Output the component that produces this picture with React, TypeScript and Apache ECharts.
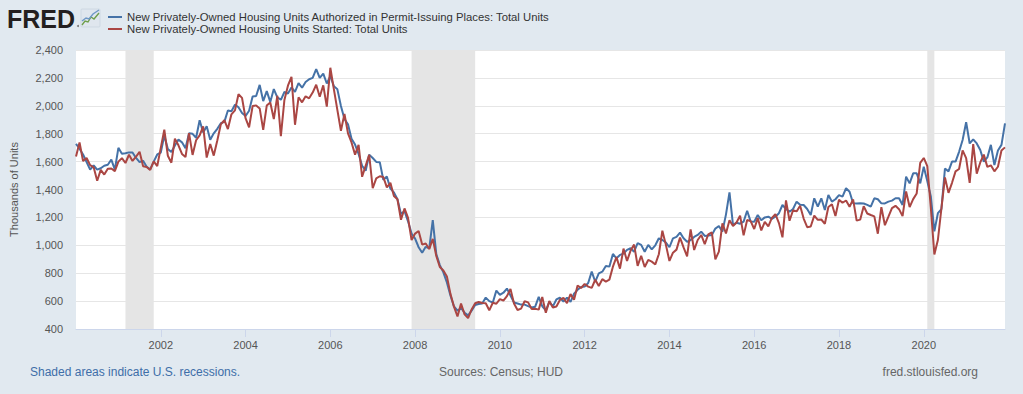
import React, { useEffect, useRef } from "react";
import * as echarts from "echarts";

const START_YEAR = 2000;

// New Privately-Owned Housing Units Authorized in Permit-Issuing Places (thousands, SAAR), monthly 2000-01 .. 2021-12
const permits: number[] = [
  1727, 1692, 1651, 1597, 1543, 1572, 1542, 1552, 1570, 1577, 1614, 1542,
  1699, 1656, 1660, 1666, 1665, 1626, 1596, 1606, 1563, 1544, 1600, 1651,
  1665, 1787, 1691, 1669, 1716, 1758, 1738, 1695, 1803, 1799, 1771, 1896,
  1808, 1854, 1757, 1803, 1835, 1875, 1885, 1966, 1961, 2008, 1990, 1949,
  1927, 1965, 2066, 2070, 2150, 2034, 2105, 2028, 2120, 2061, 2043, 2099,
  2088, 2132, 2100, 2162, 2130, 2170, 2190, 2200, 2263, 2200, 2230, 2160,
  2212, 2141, 2118, 1998, 1905, 1867, 1763, 1722, 1655, 1570, 1535, 1649,
  1626, 1598, 1596, 1470, 1493, 1406, 1379, 1330, 1225, 1244, 1172, 1084,
  1048, 986, 946, 989, 978, 1180, 937, 858, 806, 733, 641, 562,
  531, 551, 517, 498, 531, 572, 579, 582, 625, 600, 590, 675,
  645, 660, 690, 640, 590, 583, 575, 575, 564, 554, 560, 630,
  563, 534, 594, 562, 612, 624, 597, 625, 594, 653, 681, 701,
  704, 730, 811, 739, 799, 811, 852, 847, 938, 907, 931, 940,
  967, 979, 954, 1015, 1003, 954, 1003, 971, 1000, 1050, 1038, 1020,
  986, 1050, 1060, 1091, 1050, 1025, 1038, 1060, 1074, 1098, 1067, 1070,
  1074, 1120, 1138, 1098, 1220, 1380, 1145, 1162, 1155, 1170, 1248, 1170,
  1169, 1217, 1180, 1200, 1205, 1190, 1205, 1230, 1289, 1260, 1241, 1260,
  1313, 1290, 1289, 1260, 1217, 1337, 1277, 1337, 1253, 1360, 1313, 1330,
  1360, 1349, 1409, 1384, 1301, 1300, 1301, 1300, 1290, 1277, 1337, 1330,
  1301, 1300, 1313, 1320, 1337, 1337, 1289, 1492, 1444, 1516, 1516, 1444,
  1563, 1460, 1350, 1100, 1230, 1260, 1550, 1530, 1600, 1600, 1670, 1755,
  1882, 1730, 1760, 1730, 1683, 1600, 1630, 1720, 1575, 1680, 1720, 1874,
];

// New Privately-Owned Housing Units Started (thousands, SAAR), monthly 2000-01 .. 2021-12
const starts: number[] = [
  1636, 1737, 1604, 1626, 1575, 1559, 1463, 1541, 1507, 1549, 1551, 1532,
  1600, 1625, 1590, 1649, 1605, 1636, 1670, 1567, 1562, 1540, 1602, 1568,
  1698, 1829, 1642, 1592, 1764, 1717, 1655, 1633, 1804, 1648, 1753, 1788,
  1853, 1629, 1726, 1643, 1751, 1867, 1897, 1833, 1939, 1967, 2083, 2057,
  1911, 1846, 1998, 2003, 1981, 1828, 2002, 2024, 1905, 2072, 1782, 2042,
  2144, 2207, 1864, 2061, 2025, 2068, 2054, 2095, 2151, 2065, 2147, 1994,
  2273, 2119, 1969, 1821, 1942, 1802, 1737, 1650, 1720, 1491, 1570, 1649,
  1409, 1480, 1495, 1490, 1415, 1448, 1354, 1330, 1183, 1264, 1197, 1037,
  1084, 1103, 1005, 1013, 973, 1046, 923, 844, 820, 777, 652, 560,
  490, 582, 505, 478, 540, 585, 594, 586, 585, 534, 588, 581,
  614, 604, 636, 687, 583, 536, 546, 599, 591, 543, 545, 539,
  630, 517, 600, 554, 561, 608, 623, 585, 650, 610, 711, 694,
  723, 704, 695, 753, 708, 757, 740, 754, 847, 915, 833, 976,
  888, 962, 1005, 852, 925, 844, 895, 883, 863, 936, 1105, 1003,
  888, 947, 969, 1055, 985, 921, 1114, 966, 1038, 1074, 1009, 1079,
  1093, 900, 955, 1158, 1085, 1180, 1138, 1163, 1213, 1071, 1181, 1173,
  1117, 1195, 1107, 1168, 1136, 1196, 1223, 1159, 1057, 1322, 1176, 1251,
  1243, 1284, 1192, 1130, 1135, 1213, 1183, 1185, 1154, 1274, 1294, 1210,
  1327, 1305, 1321, 1276, 1329, 1177, 1184, 1280, 1228, 1217, 1207, 1083,
  1273, 1144, 1205, 1267, 1283, 1259, 1209, 1386, 1274, 1331, 1372, 1591,
  1626, 1567, 1269, 934, 1038, 1265, 1487, 1376, 1448, 1530, 1547, 1680,
  1625, 1447, 1725, 1514, 1594, 1650, 1562, 1573, 1530, 1563, 1679, 1702,
];

// recession periods as [year, month(1-12)] start/end
const recessions: [[number, number], [number, number]][] = [
  [[2001, 3], [2001, 11]],
  [[2007, 12], [2009, 6]],
  [[2020, 2], [2020, 4]],
];

const yearLabels: number[] = [2002, 2004, 2006, 2008, 2010, 2012, 2014, 2016, 2018, 2020];

const permitsName = "New Privately-Owned Housing Units Authorized in Permit-Issuing Places: Total Units";
const startsName = "New Privately-Owned Housing Units Started: Total Units";

const BLUE = "#4572a7";
const RED = "#aa4643";
const FONT = "'Liberation Sans', Arial, sans-serif";

// position of a month on the year scale (fractional year)
function monthPos(i: number): number {
  return START_YEAR + i / 12;
}
function ymPos(y: number, m: number): number {
  return y + (m - 1) / 12;
}

export default function App() {
  const ref = useRef<HTMLDivElement>(null);
  useEffect(() => {
    if (!ref.current) return;
    const chart = echarts.init(ref.current, undefined, { renderer: "svg" });
    const option: any = {
      animation: false,
      backgroundColor: "#e1e9f0",
      textStyle: { fontFamily: FONT },
      grid: {
        left: 75,
        right: 18,
        top: 50,
        bottom: 65,
        show: true,
        backgroundColor: "#ffffff",
        borderWidth: 0,
      },
      xAxis: {
        type: "value",
        min: monthPos(0),
        max: monthPos(permits.length - 1),
        splitLine: { show: false },
        axisLine: { show: true, lineStyle: { color: "#ccd6eb" } },
        axisTick: {
          show: true,
          customValues: yearLabels,
          length: 8,
          lineStyle: { color: "#ccd6eb" },
        },
        axisLabel: {
          customValues: yearLabels,
          formatter: (v: number) => String(Math.round(v)),
          color: "#555",
          fontSize: 11,
          fontFamily: FONT,
          margin: 10,
        },
      },
      yAxis: {
        type: "value",
        min: 400,
        max: 2400,
        interval: 200,
        name: "Thousands of Units",
        nameLocation: "middle",
        nameGap: 57,
        nameTextStyle: { color: "#555", fontSize: 11, fontFamily: FONT },
        axisLine: { show: false },
        axisTick: { show: false },
        splitLine: { show: true, lineStyle: { color: "#e6e6e6", width: 1 } },
        axisLabel: {
          color: "#555",
          fontSize: 11,
          fontFamily: FONT,
          margin: 13,
          formatter: (v: number) => v.toLocaleString("en-US"),
        },
      },
      series: [
        {
          name: permitsName,
          type: "line",
          data: permits.map((v, i) => [monthPos(i), v]),
          showSymbol: false,
          lineStyle: { color: BLUE, width: 2 },
          itemStyle: { color: BLUE },
          z: 3,
          markArea: {
            silent: true,
            itemStyle: { color: "#e5e5e5" },
            data: recessions.map(([a, b]) => [
              { xAxis: ymPos(a[0], a[1]) },
              { xAxis: ymPos(b[0], b[1]) },
            ]),
          },
        },
        {
          name: startsName,
          type: "line",
          data: starts.map((v, i) => [monthPos(i), v]),
          showSymbol: false,
          lineStyle: { color: RED, width: 2 },
          itemStyle: { color: RED },
          z: 4,
        },
      ],
      graphic: [
        {
          type: "text",
          left: 7,
          top: 6,
          style: {
            text: "FRED",
            fontFamily: FONT,
            fontWeight: 900,
            fontSize: 25,
            fill: "#231f20",
          },
        },
        {
          type: "circle",
          shape: { cx: 78, cy: 26, r: 1 },
          style: { fill: "#777" },
        },
        {
          type: "rect",
          shape: { x: 81, y: 9, width: 19, height: 18, r: 1 },
          style: { fill: "#dfe6ee", stroke: "#c5d0db", lineWidth: 0.6 },
        },
        {
          type: "polyline",
          shape: { points: [[82, 25], [85, 21], [88, 22], [91, 17], [94, 19], [99, 13]] },
          style: { stroke: "#6f9f4c", lineWidth: 1.4, fill: "none" },
        },
        {
          type: "polyline",
          shape: { points: [[82, 21], [86, 18], [89, 19], [93, 14], [99, 10]] },
          style: { stroke: "#6f98c6", lineWidth: 1.4, fill: "none" },
        },
        {
          type: "line",
          shape: { x1: 108, y1: 17, x2: 122, y2: 17 },
          style: { stroke: BLUE, lineWidth: 2 },
        },
        {
          type: "text",
          x: 127,
          y: 17,
          style: {
            text: permitsName,
            fontFamily: FONT,
            fontSize: 11.3,
            fill: "#333",
            verticalAlign: "middle",
          },
        },
        {
          type: "line",
          shape: { x1: 108, y1: 29, x2: 122, y2: 29 },
          style: { stroke: RED, lineWidth: 2 },
        },
        {
          type: "text",
          x: 127,
          y: 29,
          style: {
            text: startsName,
            fontFamily: FONT,
            fontSize: 11.3,
            fill: "#333",
            verticalAlign: "middle",
          },
        },
        {
          type: "text",
          x: 30,
          y: 372,
          style: {
            text: "Shaded areas indicate U.S. recessions.",
            fontFamily: FONT,
            fontSize: 12,
            fill: "#3e6ea8",
            verticalAlign: "middle",
          },
        },
        {
          type: "text",
          x: 501,
          y: 372,
          style: {
            text: "Sources: Census; HUD",
            fontFamily: FONT,
            fontSize: 12,
            fill: "#666",
            align: "center",
            verticalAlign: "middle",
          },
        },
        {
          type: "text",
          x: 978,
          y: 372,
          style: {
            text: "fred.stlouisfed.org",
            fontFamily: FONT,
            fontSize: 12,
            fill: "#666",
            align: "right",
            verticalAlign: "middle",
          },
        },
      ],
    };
    chart.setOption(option);
    return () => chart.dispose();
  }, []);
  return (
    <div
      ref={ref}
      style={{ position: "fixed", left: 0, top: 0, width: 1023, height: 394 }}
    />
  );
}
